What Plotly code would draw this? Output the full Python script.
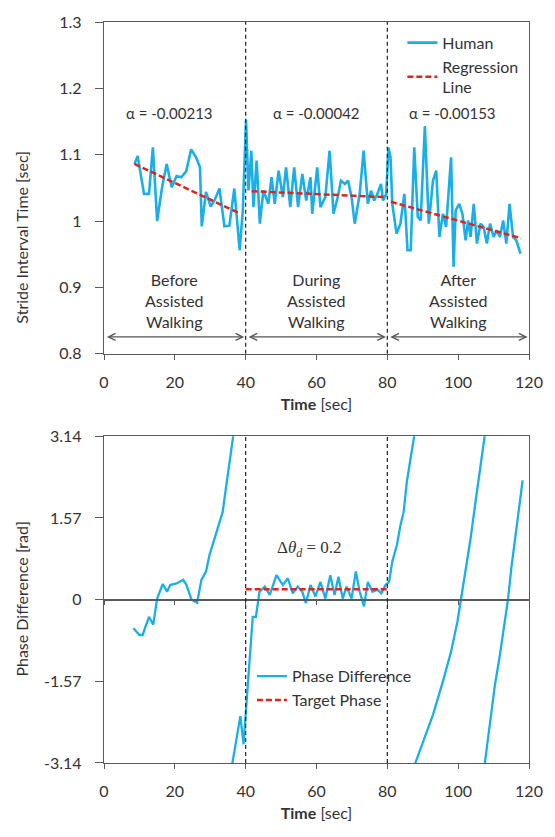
import plotly.graph_objects as go

# ---------------- data ----------------
human_t_before = [8.6, 9.5, 11.3, 12.7, 13.8, 15.0, 16.4, 17.7, 19.1, 20.5, 21.8, 23.2, 24.6,
                  26.0, 27.1, 27.6, 28.8, 30.1, 31.2, 32.6, 34.0, 35.4, 36.8, 37.6, 38.3, 39.2]
human_v_before = [1.086, 1.098, 1.041, 1.041, 1.111, 1.000, 1.051, 1.086, 1.051, 1.068, 1.066, 1.075, 1.108,
                  1.096, 1.081, 0.992, 1.044, 1.022, 1.031, 1.049, 0.992, 0.993, 1.049, 0.996, 0.956, 1.016]
human_t_during = [40.1, 40.8, 41.6, 42.2, 43.1, 44.0, 45.0, 46.4, 47.3, 48.2, 49.3, 50.5, 51.4, 52.6,
                  53.7, 54.8, 56.0, 57.1, 58.3, 58.8, 60.2, 61.1, 62.5, 63.7, 64.8, 66.0, 66.9, 68.0,
                  68.9, 69.9, 70.8, 72.2, 73.3, 74.5, 75.4, 76.3, 77.2, 78.2, 78.8, 79.7]
human_v_during = [1.153, 1.046, 1.106, 1.021, 1.091, 0.996, 1.046, 1.026, 1.066, 1.026, 1.076, 1.036, 1.081, 1.021,
                  1.081, 1.021, 1.071, 1.031, 1.066, 1.011, 1.081, 1.021, 1.036, 1.106, 1.011, 1.036, 1.061, 1.056,
                  1.061, 1.036, 0.996, 1.041, 1.106, 1.026, 1.046, 1.031, 1.041, 1.056, 1.031, 1.041]
human_t_after = [80.3, 80.9, 81.4, 82.6, 83.7, 84.8, 85.7, 86.6, 87.6, 88.6, 89.4, 90.6, 91.7, 92.9,
                 93.8, 94.7, 95.7, 96.6, 98.0, 98.7, 99.3, 100.3, 101.2, 102.1, 102.8, 103.5, 104.4, 105.3,
                 106.3, 107.2, 108.1, 109.0, 110.0, 110.9, 111.8, 112.7, 113.6, 114.5, 115.5, 116.4, 117.6]
human_v_after = [1.111, 1.096, 1.026, 0.981, 0.996, 1.041, 0.956, 0.956, 1.111, 1.006, 1.001, 1.143, 0.996, 1.061,
                 1.076, 0.976, 1.011, 0.991, 1.096, 0.931, 1.016, 1.026, 1.011, 0.971, 1.001, 0.976, 1.026, 0.966,
                 0.996, 0.991, 0.966, 0.996, 0.976, 0.986, 0.976, 1.001, 0.966, 1.026, 0.976, 0.971, 0.951]

reg_t = [8.6, 38.5, None, 41.7, 79.5, None, 81.0, 117.8]
reg_v = [1.086, 1.011, None, 1.045, 1.036, None, 1.029, 0.974]

alpha_labels = ["α = -0.00213", "α = -0.00042", "α = -0.00153"]
alpha_x = [18.5, 60.0, 98.5]
alpha_y = 1.163

phase_names = ["Before<br>Assisted<br>Walking", "During<br>Assisted<br>Walking", "After<br>Assisted<br>Walking"]
phase_centers = [20, 60, 100]
phase_spans = [(0.4, 39.6), (40.4, 79.6), (80.4, 119.6)]
boundaries = [40, 80]

pd_t_a = [8.3, 10.0, 10.9, 12.7, 13.9, 15.0, 16.6, 17.8, 18.7, 20.5, 22.4, 23.3, 24.7, 26.3, 27.5,
          28.8, 29.8, 31.2, 32.5, 33.5, 34.4, 35.3, 36.5]
pd_v_a = [-0.55, -0.68, -0.68, -0.33, -0.48, 0.02, 0.30, 0.15, 0.28, 0.31, 0.38, 0.28, 0.0, -0.06, 0.38,
          0.54, 0.86, 1.17, 1.49, 1.68, 2.13, 2.58, 3.15]
pd_t_b = [36.2, 38.5, 39.4, 40.4, 41.3, 42.0, 42.9, 43.9, 45.4, 46.8, 48.7, 50.5, 51.9, 53.3, 54.7,
          56.0, 57.0, 58.3, 59.7, 61.1, 62.5, 63.9, 65.1, 66.2, 67.4, 68.5, 69.9, 71.1, 72.2, 73.4,
          74.5, 75.8, 77.2, 78.3, 79.5, 80.5, 81.4, 82.7, 83.7, 84.6, 85.5, 86.5, 87.6]
pd_v_b = [-3.16, -2.24, -2.78, -1.82, -0.93, -0.33, -0.33, 0.15, 0.25, 0.09, 0.47, 0.28, 0.41, 0.12, 0.25,
          0.15, -0.07, 0.28, 0.06, 0.34, 0.02, 0.47, 0.09, 0.44, 0.02, 0.25, 0.02, 0.54, 0.15, -0.13,
          0.34, 0.15, 0.19, 0.12, 0.28, 0.34, 0.73, 1.05, 1.43, 1.68, 2.26, 2.70, 3.15]
pd_t_c = [87.8, 90.1, 92.9, 95.7, 98.0, 99.8, 100.7, 102.1, 103.5, 104.9, 106.3, 107.5]
pd_v_c = [-3.16, -2.72, -2.21, -1.57, -1.0, -0.42, -0.04, 0.54, 1.17, 1.88, 2.58, 3.15]
pd_t_d = [107.5, 109.0, 110.4, 111.8, 113.2, 114.1, 115.0, 116.1, 117.3, 118.2]
pd_v_d = [-3.16, -2.34, -1.63, -1.06, -0.42, 0.02, 0.60, 1.17, 1.75, 2.29]

target_t = [40, 80]
target_v = [0.2, 0.2]

top_ticks = [0.8, 0.9, 1.0, 1.1, 1.2, 1.3]
top_ticktext = ["0.8", "0.9", "1", "1.1", "1.2", "1.3"]
bot_ticks = [-3.14, -1.57, 0, 1.57, 3.14]
bot_ticktext = ["-3.14", "-1.57", "0", "1.57", "3.14"]
x_ticks = [0, 20, 40, 60, 80, 100, 120]

# ---------------- styling ----------------
BLUE = "#1AAFE6"
RED = "#E0231E"
FONT = "Lato"
TXT = "#333333"
AX = "#5a5a5a"

human_t = human_t_before + human_t_during + human_t_after
human_v = human_v_before + human_v_during + human_v_after
pd_t = pd_t_a + [None] + pd_t_b + [None] + pd_t_c + [None] + pd_t_d
pd_v = pd_v_a + [None] + pd_v_b + [None] + pd_v_c + [None] + pd_v_d

fig = go.Figure()
fig.add_trace(go.Scatter(x=human_t, y=human_v, mode="lines", name="Human",
                         line=dict(color=BLUE, width=2.6), xaxis="x", yaxis="y", legend="legend"))
fig.add_trace(go.Scatter(x=reg_t, y=reg_v, mode="lines", name="Regression<br>Line",
                         line=dict(color=RED, width=2.5, dash="6px,3px"), xaxis="x", yaxis="y", legend="legend"))
fig.add_trace(go.Scatter(x=pd_t, y=pd_v, mode="lines", name="Phase Difference",
                         line=dict(color=BLUE, width=2.3), xaxis="x2", yaxis="y2", legend="legend2"))
fig.add_trace(go.Scatter(x=target_t, y=target_v, mode="lines", name="Target Phase",
                         line=dict(color=RED, width=2.5, dash="6px,3px"), xaxis="x2", yaxis="y2", legend="legend2"))
# empty trace to host the zero-crossing axis of the lower panel
fig.add_trace(go.Scatter(x=[], y=[], xaxis="x3", yaxis="y2", showlegend=False, hoverinfo="skip"))

top_dom = [(763 - 351) / 746, 1.0]
bot_dom = [0.0, (763 - 434) / 746]

tickfont = dict(family=FONT, size=16, color=TXT)
common_x = dict(range=[0, 120], tickvals=x_ticks, showgrid=False, zeroline=False,
                showline=True, linecolor=AX, linewidth=1.3, mirror=True,
                ticks="outside", ticklen=5, tickcolor=AX, tickfont=tickfont,
                ticklabelstandoff=9)
common_y = dict(showgrid=False, zeroline=False, showline=True, linecolor=AX, linewidth=1.3,
                mirror=True, ticks="outside", ticklen=8, tickcolor=AX, tickfont=tickfont,
                ticklabelstandoff=10)

xtitle = dict(text="<b>Time</b> [sec]", font=dict(family=FONT, size=16, color=TXT), standoff=8)

fig.update_layout(
    width=555, height=837,
    margin=dict(l=104, r=17, t=17, b=74),
    paper_bgcolor="white", plot_bgcolor="white",
    font=dict(family=FONT, color=TXT),
    xaxis=dict(common_x, anchor="y", domain=[0, 1], title=xtitle),
    yaxis=dict(common_y, anchor="x", domain=top_dom, range=[0.8, 1.3],
               tickvals=top_ticks, ticktext=top_ticktext),
    xaxis2=dict(common_x, anchor="y2", domain=[0, 1], title=xtitle),
    yaxis2=dict(common_y, anchor="x2", domain=bot_dom, range=[-3.14, 3.14],
                tickvals=bot_ticks, ticktext=bot_ticktext),
    xaxis3=dict(overlaying="x2", anchor="free", position=(bot_dom[0] + bot_dom[1]) / 2,
                range=[0, 120], tickvals=x_ticks, showticklabels=False, showgrid=False,
                zeroline=False, showline=True, linecolor=AX, linewidth=1.5,
                ticks="outside", ticklen=5, tickcolor=AX),
    legend=dict(x=0.702, y=0.995, xanchor="left", yanchor="top", bgcolor="rgba(0,0,0,0)",
                font=dict(family=FONT, size=16, color=TXT), itemwidth=30, tracegroupgap=0),
    legend2=dict(x=0.348, y=0.14, xanchor="left", yanchor="top", bgcolor="rgba(0,0,0,0)",
                 font=dict(family=FONT, size=16, color=TXT), itemwidth=30, tracegroupgap=0),
    showlegend=True,
)

# phase boundaries (dashed verticals) in both panels
for b in boundaries:
    for xr, yr in (("x", "y domain"), ("x2", "y2 domain")):
        fig.add_shape(type="line", xref=xr, yref=yr, x0=b, x1=b, y0=0, y1=1,
                      line=dict(color="#222222", width=1.2, dash="4px,3px"))

# slope labels
for lbl, xa in zip(alpha_labels, alpha_x):
    fig.add_annotation(x=xa, y=alpha_y, xref="x", yref="y", text=lbl, showarrow=False,
                       font=dict(family=FONT, size=15, color=TXT))

# phase names and double arrows
for name, cx, (s0, s1) in zip(phase_names, phase_centers, phase_spans):
    fig.add_annotation(x=cx, y=0.8798, xref="x", yref="y", text=name, showarrow=False,
                       font=dict(family=FONT, size=16, color=TXT), align="center")
    fig.add_annotation(x=s1, y=0.8254, ax=s0, ay=0.8254, xref="x", yref="y",
                       axref="x", ayref="y", text="", showarrow=True,
                       arrowhead=5, startarrowhead=5, arrowside="end+start",
                       arrowsize=1, arrowwidth=1.4, arrowcolor="#555555")

# target phase label
fig.add_annotation(x=58, y=0.98, xref="x2", yref="y2",
                   text="Δ<i>θ<sub>d</sub></i> = 0.2", showarrow=False,
                   font=dict(family="Liberation Serif", size=17, color=TXT))

# y-axis titles
fig.add_annotation(x=0, y=0.975, xref="paper", yref="y", xshift=-82, textangle=-90,
                   text="Stride Interval Time [sec]", showarrow=False, xanchor="center",
                   font=dict(family=FONT, size=16, color=TXT))
fig.add_annotation(x=0, y=0, xref="paper", yref="y2", xshift=-82, textangle=-90,
                   text="Phase Difference [rad]", showarrow=False, xanchor="center",
                   font=dict(family=FONT, size=16, color=TXT))

fig.write_html("out.html", config={"displayModeBar": False},
               post_script="document.body.style.margin='0';document.body.style.overflow='hidden';")
